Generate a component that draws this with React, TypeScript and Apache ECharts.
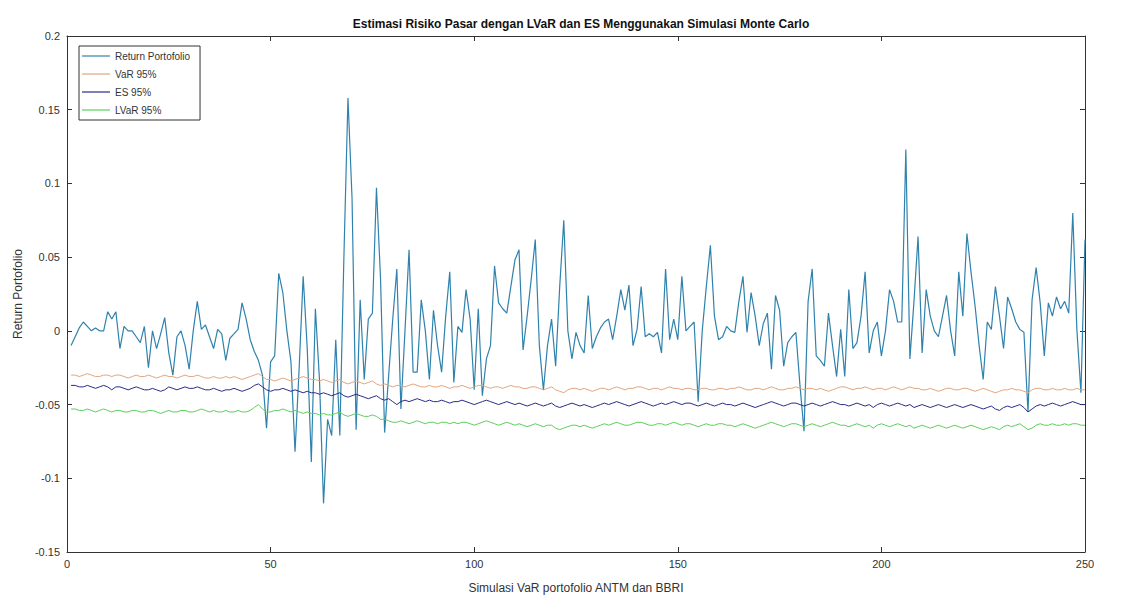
import { useEffect, useRef } from "react";
import * as echarts from "echarts";

const titleText = "Estimasi Risiko Pasar dengan LVaR dan ES Menggunakan Simulasi Monte Carlo";
const xAxisTitle = "Simulasi VaR portofolio ANTM dan BBRI";
const yAxisTitle = "Return Portofolio";
const seriesNames = ["Return Portofolio", "VaR 95%", "ES 95%", "LVaR 95%"];

// simulation index 1..250
const returnPortofolio = [
  -0.010, -0.004, 0.002, 0.006, 0.003, 0.000, 0.002, 0.000, 0.000, 0.013,
  0.008, 0.013, -0.012, 0.003, 0.000, 0.000, -0.004, -0.008, 0.003, -0.025,
  0.000, -0.012, -0.002, 0.009, -0.015, -0.030, -0.004, 0.000, -0.010, -0.026,
  0.000, 0.020, 0.001, 0.004, -0.004, -0.012, 0.001, -0.002, -0.020, -0.005,
  -0.002, 0.001, 0.019, 0.008, -0.006, -0.014, -0.020, -0.030, -0.066, -0.021,
  -0.017, 0.039, 0.026, 0.000, -0.021, -0.082, -0.026, 0.037, -0.012, -0.089,
  0.015, -0.033, -0.117, -0.060, -0.071, -0.006, -0.071, 0.050, 0.158, 0.090,
  -0.067, 0.021, -0.033, 0.008, 0.012, 0.097, 0.035, -0.069, -0.030, 0.008,
  0.042, -0.053, 0.000, 0.055, -0.028, -0.028, 0.021, 0.000, -0.033, 0.014,
  -0.010, -0.028, 0.010, 0.040, -0.035, 0.003, -0.001, 0.028, 0.008, -0.040,
  0.015, -0.044, -0.019, -0.010, 0.044, 0.019, 0.015, 0.012, 0.030, 0.048,
  0.055, -0.013, 0.010, 0.035, 0.062, -0.010, -0.040, -0.010, 0.008, -0.024,
  0.030, 0.075, 0.000, -0.019, -0.001, -0.010, -0.015, 0.024, -0.012, -0.004,
  0.002, 0.006, 0.008, -0.006, 0.010, 0.028, 0.014, 0.031, -0.010, 0.001,
  0.030, -0.004, -0.002, -0.004, -0.001, -0.015, 0.042, -0.006, 0.008, -0.006,
  0.037, 0.000, 0.003, 0.006, -0.048, 0.000, 0.030, 0.058, 0.010, -0.006,
  -0.004, 0.003, 0.000, -0.001, 0.020, 0.037, -0.001, 0.026, 0.010, -0.010,
  0.005, 0.012, -0.026, 0.024, 0.014, -0.024, -0.008, -0.004, -0.001, -0.037,
  -0.068, 0.020, 0.042, -0.017, -0.020, -0.024, 0.012, -0.010, -0.031, 0.001,
  -0.031, 0.028, -0.012, -0.008, 0.010, 0.040, -0.015, 0.000, 0.006, -0.017,
  0.000, 0.028, 0.020, 0.006, 0.006, 0.123, -0.019, 0.020, 0.064, -0.015,
  0.028, 0.010, 0.000, -0.004, 0.010, 0.024, 0.000, -0.017, 0.040, 0.010,
  0.066, 0.040, 0.017, -0.010, -0.033, 0.006, 0.001, 0.030, 0.010, -0.012,
  0.023, 0.015, 0.006, 0.001, -0.001, -0.055, 0.021, 0.043, 0.019, -0.017,
  0.019, 0.010, 0.023, 0.015, 0.020, 0.012, 0.080, 0.001, -0.042, 0.062,
];

const var95 = [
  -0.030, -0.030, -0.031, -0.030, -0.029, -0.030, -0.031, -0.031, -0.030, -0.030,
  -0.031, -0.030, -0.030, -0.031, -0.032, -0.031, -0.030, -0.031, -0.031, -0.030,
  -0.031, -0.032, -0.031, -0.030, -0.031, -0.031, -0.032, -0.031, -0.030, -0.031,
  -0.031, -0.030, -0.031, -0.032, -0.032, -0.031, -0.032, -0.032, -0.031, -0.032,
  -0.031, -0.032, -0.033, -0.032, -0.031, -0.030, -0.029, -0.031, -0.033, -0.033,
  -0.034, -0.033, -0.032, -0.033, -0.034, -0.033, -0.032, -0.031, -0.032, -0.033,
  -0.033, -0.034, -0.033, -0.034, -0.035, -0.034, -0.033, -0.035, -0.036, -0.035,
  -0.034, -0.035, -0.036, -0.035, -0.034, -0.036, -0.037, -0.036, -0.037, -0.038,
  -0.037, -0.037, -0.038, -0.037, -0.036, -0.037, -0.038, -0.038, -0.037, -0.038,
  -0.038, -0.037, -0.038, -0.039, -0.038, -0.038, -0.037, -0.038, -0.039, -0.038,
  -0.037, -0.037, -0.038, -0.039, -0.038, -0.038, -0.039, -0.038, -0.037, -0.038,
  -0.038, -0.039, -0.039, -0.038, -0.038, -0.039, -0.040, -0.039, -0.038, -0.040,
  -0.041, -0.042, -0.040, -0.039, -0.039, -0.040, -0.039, -0.040, -0.041, -0.040,
  -0.039, -0.039, -0.040, -0.039, -0.038, -0.039, -0.040, -0.039, -0.039, -0.038,
  -0.038, -0.039, -0.040, -0.039, -0.039, -0.040, -0.039, -0.038, -0.039, -0.039,
  -0.040, -0.039, -0.039, -0.040, -0.040, -0.039, -0.039, -0.040, -0.040, -0.039,
  -0.039, -0.040, -0.039, -0.039, -0.038, -0.039, -0.040, -0.040, -0.039, -0.039,
  -0.040, -0.039, -0.038, -0.039, -0.040, -0.040, -0.039, -0.039, -0.038, -0.039,
  -0.040, -0.039, -0.039, -0.040, -0.039, -0.040, -0.041, -0.040, -0.039, -0.038,
  -0.038, -0.039, -0.040, -0.039, -0.039, -0.038, -0.039, -0.040, -0.039, -0.039,
  -0.040, -0.039, -0.038, -0.039, -0.040, -0.039, -0.038, -0.039, -0.039, -0.040,
  -0.040, -0.039, -0.040, -0.041, -0.040, -0.039, -0.039, -0.040, -0.040, -0.039,
  -0.039, -0.040, -0.041, -0.040, -0.039, -0.040, -0.041, -0.042, -0.041, -0.040,
  -0.040, -0.039, -0.040, -0.040, -0.041, -0.042, -0.040, -0.039, -0.039, -0.040,
  -0.040, -0.039, -0.040, -0.040, -0.039, -0.040, -0.040, -0.039, -0.040, -0.040,
];

const es95 = [
  -0.037, -0.037, -0.038, -0.038, -0.037, -0.038, -0.039, -0.038, -0.037, -0.038,
  -0.040, -0.038, -0.038, -0.039, -0.040, -0.039, -0.038, -0.039, -0.040, -0.040,
  -0.039, -0.040, -0.041, -0.040, -0.038, -0.039, -0.040, -0.039, -0.038, -0.039,
  -0.039, -0.038, -0.039, -0.040, -0.040, -0.039, -0.040, -0.041, -0.040, -0.040,
  -0.039, -0.040, -0.041, -0.040, -0.039, -0.037, -0.036, -0.038, -0.040, -0.041,
  -0.040, -0.040, -0.039, -0.040, -0.041, -0.040, -0.041, -0.042, -0.041, -0.042,
  -0.042, -0.043, -0.042, -0.043, -0.044, -0.043, -0.042, -0.044, -0.045, -0.044,
  -0.043, -0.044, -0.045, -0.046, -0.045, -0.044, -0.046, -0.047, -0.046, -0.048,
  -0.050, -0.048, -0.047, -0.048, -0.047, -0.046, -0.047, -0.048, -0.047, -0.048,
  -0.048, -0.047, -0.048, -0.049, -0.048, -0.048, -0.047, -0.048, -0.049, -0.050,
  -0.049, -0.048, -0.047, -0.048, -0.049, -0.050, -0.049, -0.048, -0.049, -0.050,
  -0.049, -0.050, -0.051, -0.050, -0.049, -0.050, -0.051, -0.050, -0.049, -0.051,
  -0.052, -0.051, -0.050, -0.049, -0.050, -0.051, -0.050, -0.051, -0.052, -0.051,
  -0.050, -0.049, -0.050, -0.049, -0.048, -0.049, -0.050, -0.051, -0.050, -0.049,
  -0.048, -0.049, -0.050, -0.051, -0.050, -0.049, -0.050, -0.049, -0.048, -0.049,
  -0.050, -0.049, -0.049, -0.050, -0.051, -0.050, -0.049, -0.050, -0.051, -0.050,
  -0.049, -0.050, -0.050, -0.051, -0.050, -0.049, -0.050, -0.051, -0.052, -0.051,
  -0.050, -0.049, -0.048, -0.049, -0.050, -0.051, -0.050, -0.049, -0.049, -0.050,
  -0.051, -0.050, -0.049, -0.050, -0.051, -0.050, -0.049, -0.048, -0.049, -0.050,
  -0.050, -0.051, -0.050, -0.049, -0.050, -0.051, -0.050, -0.052, -0.050, -0.049,
  -0.050, -0.051, -0.050, -0.049, -0.050, -0.051, -0.050, -0.052, -0.051, -0.050,
  -0.051, -0.052, -0.051, -0.050, -0.051, -0.052, -0.051, -0.050, -0.051, -0.052,
  -0.051, -0.050, -0.051, -0.052, -0.053, -0.052, -0.051, -0.053, -0.054, -0.052,
  -0.051, -0.052, -0.051, -0.050, -0.052, -0.055, -0.053, -0.051, -0.050, -0.051,
  -0.050, -0.049, -0.050, -0.051, -0.050, -0.049, -0.048, -0.049, -0.050, -0.050,
];

const lvar95 = [
  -0.053, -0.053, -0.054, -0.054, -0.053, -0.054, -0.055, -0.054, -0.053, -0.054,
  -0.055, -0.054, -0.054, -0.055, -0.055, -0.054, -0.054, -0.055, -0.055, -0.054,
  -0.054, -0.055, -0.056, -0.055, -0.054, -0.055, -0.055, -0.054, -0.054, -0.055,
  -0.055, -0.054, -0.053, -0.054, -0.055, -0.054, -0.055, -0.055, -0.054, -0.055,
  -0.055, -0.054, -0.055, -0.055, -0.054, -0.052, -0.050, -0.053, -0.055, -0.055,
  -0.054, -0.054, -0.053, -0.054, -0.055, -0.054, -0.055, -0.056, -0.055, -0.056,
  -0.056, -0.057, -0.056, -0.057, -0.057, -0.056, -0.055, -0.057, -0.058, -0.057,
  -0.056, -0.057, -0.058, -0.058, -0.057, -0.058, -0.060, -0.060, -0.061, -0.062,
  -0.062, -0.061, -0.062, -0.063, -0.062, -0.061, -0.062, -0.063, -0.062, -0.062,
  -0.063, -0.062, -0.062, -0.063, -0.062, -0.063, -0.062, -0.062, -0.063, -0.064,
  -0.063, -0.062, -0.061, -0.062, -0.063, -0.064, -0.063, -0.062, -0.063, -0.064,
  -0.063, -0.064, -0.065, -0.064, -0.063, -0.064, -0.065, -0.064, -0.064, -0.066,
  -0.067, -0.066, -0.065, -0.064, -0.064, -0.065, -0.064, -0.065, -0.066, -0.065,
  -0.064, -0.063, -0.064, -0.063, -0.062, -0.063, -0.064, -0.064, -0.063, -0.062,
  -0.062, -0.063, -0.064, -0.064, -0.063, -0.063, -0.064, -0.063, -0.062, -0.063,
  -0.064, -0.063, -0.063, -0.064, -0.065, -0.064, -0.063, -0.064, -0.064, -0.063,
  -0.063, -0.064, -0.064, -0.065, -0.064, -0.063, -0.064, -0.065, -0.066, -0.065,
  -0.064, -0.063, -0.062, -0.063, -0.064, -0.065, -0.064, -0.063, -0.063, -0.064,
  -0.065, -0.064, -0.063, -0.064, -0.065, -0.064, -0.063, -0.062, -0.063, -0.064,
  -0.064, -0.065, -0.064, -0.063, -0.064, -0.065, -0.064, -0.066, -0.064, -0.063,
  -0.064, -0.065, -0.064, -0.063, -0.064, -0.065, -0.064, -0.066, -0.065, -0.064,
  -0.065, -0.066, -0.065, -0.064, -0.065, -0.066, -0.065, -0.064, -0.065, -0.066,
  -0.065, -0.064, -0.065, -0.066, -0.067, -0.066, -0.065, -0.066, -0.067, -0.065,
  -0.064, -0.065, -0.064, -0.063, -0.065, -0.067, -0.066, -0.064, -0.063, -0.064,
  -0.064, -0.063, -0.064, -0.064, -0.063, -0.064, -0.063, -0.063, -0.064, -0.064,
];

const seriesColors = ["#2f82ad", "#e3a57c", "#2a2a8a", "#5ccf5c"];

const toPairs = (arr: number[]) => arr.map((v, i) => [i + 1, v]);

export default function App() {
  const ref = useRef<HTMLDivElement>(null);

  useEffect(() => {
    document.body.style.margin = "0";
    if (!ref.current) return;
    const chart = echarts.init(ref.current, null, { renderer: "svg" });
    const font = "'Liberation Sans', Arial, Helvetica, sans-serif";
    const axisColor = "#333333";
    const labelColor = "#333333";
    const fmt = (v: number) => String(Number(v.toFixed(2)));

    const values = [returnPortofolio, var95, es95, lvar95];

    const baseAxisLine = { show: true, onZero: false, lineStyle: { color: axisColor, width: 1 } };
    const baseTick = { show: true, inside: true, length: 5, lineStyle: { color: axisColor } };

    chart.setOption({
      animation: false,
      backgroundColor: "#ffffff",
      textStyle: { fontFamily: font },
      title: {
        text: titleText,
        left: 576,
        top: 13,
        textAlign: "center",
        textStyle: { fontSize: 12, fontWeight: "bold", color: "#111111", fontFamily: font },
      },
      legend: {
        orient: "vertical",
        left: 79,
        top: 46,
        itemWidth: 28,
        itemHeight: 10,
        itemGap: 8,
        padding: [5, 10, 5, 3],
        icon: "path://M0,0 L28,0 L28,1.2 L0,1.2 Z",
        borderColor: "#333333",
        borderWidth: 1,
        backgroundColor: "#ffffff",
        textStyle: { fontSize: 10, color: labelColor, fontFamily: font },
        data: seriesNames,
      },
      grid: { left: 67, right: 42, top: 36, bottom: 45, containLabel: false },
      xAxis: [
        {
          type: "value",
          min: 0,
          max: 250,
          interval: 50,
          position: "bottom",
          name: xAxisTitle,
          nameLocation: "middle",
          nameGap: 30,
          nameTextStyle: { fontSize: 12, color: labelColor, fontFamily: font },
          axisLine: baseAxisLine,
          axisTick: baseTick,
          axisLabel: { fontSize: 11, color: labelColor, margin: 6, fontFamily: font },
          splitLine: { show: false },
        },
        {
          type: "value",
          min: 0,
          max: 250,
          interval: 50,
          position: "top",
          axisLine: baseAxisLine,
          axisTick: baseTick,
          axisLabel: { show: false },
          splitLine: { show: false },
        },
      ],
      yAxis: [
        {
          type: "value",
          min: -0.15,
          max: 0.2,
          interval: 0.05,
          position: "left",
          name: yAxisTitle,
          nameLocation: "middle",
          nameGap: 43,
          nameTextStyle: { fontSize: 12, color: labelColor, fontFamily: font },
          axisLine: baseAxisLine,
          axisTick: baseTick,
          axisLabel: { fontSize: 11, color: labelColor, margin: 7, formatter: fmt, fontFamily: font },
          splitLine: { show: false },
        },
        {
          type: "value",
          min: -0.15,
          max: 0.2,
          interval: 0.05,
          position: "right",
          axisLine: baseAxisLine,
          axisTick: baseTick,
          axisLabel: { show: false },
          splitLine: { show: false },
        },
      ],
      series: seriesNames.map((name, k) => ({
        name,
        type: "line",
        xAxisIndex: 0,
        yAxisIndex: 0,
        data: toPairs(values[k]),
        symbol: "none",
        showSymbol: false,
        color: seriesColors[k],
        lineStyle: { color: seriesColors[k], width: k === 0 ? 1.2 : 1 },
        silent: true,
      })),
    });

    return () => chart.dispose();
  }, []);

  return <div ref={ref} style={{ width: 1127, height: 599 }} />;
}
